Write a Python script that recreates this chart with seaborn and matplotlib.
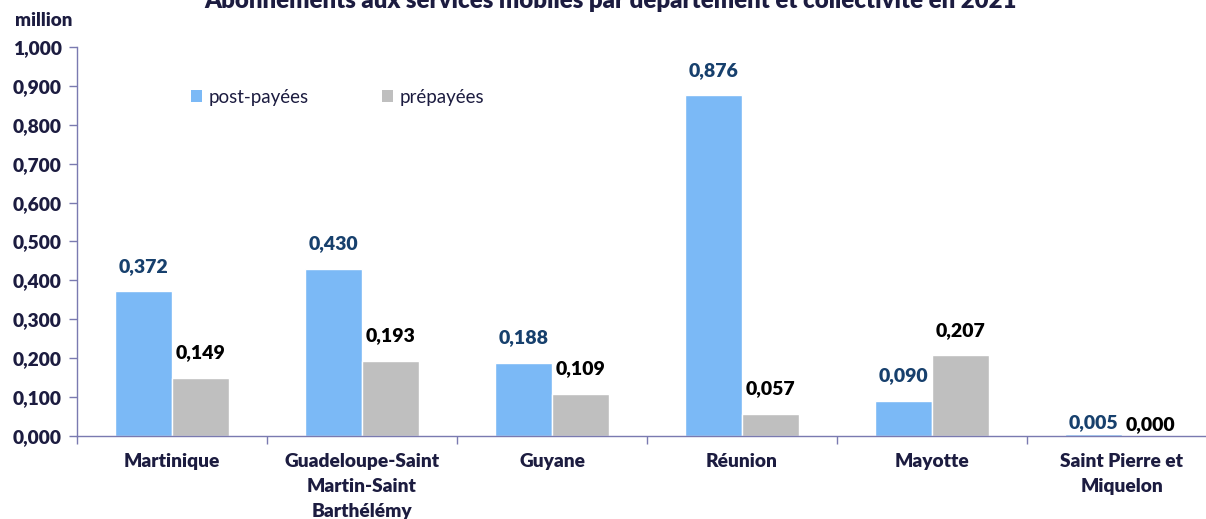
import matplotlib
matplotlib.use("Agg")
import matplotlib.pyplot as plt
import seaborn as sns
import pandas as pd
import numpy as np
from matplotlib.patches import Patch

categories = ["Martinique", "Guadeloupe-Saint\nMartin-Saint\nBarthélémy", "Guyane",
              "Réunion", "Mayotte", "Saint Pierre et\nMiquelon"]
post_payees = [0.372, 0.430, 0.188, 0.876, 0.090, 0.005]
prepayees = [0.149, 0.193, 0.109, 0.057, 0.207, 0.000]
series_names = ["post-payées", "prépayées"]
yticks = [0.0, 0.1, 0.2, 0.3, 0.4, 0.5, 0.6, 0.7, 0.8, 0.9, 1.0]
title = "Abonnements aux services mobiles par département et collectivité en 2021"

sns.set_theme(style="white")
plt.rcParams['font.family'] = ['Lato', 'DejaVu Sans']

BLUE = "#7BB9F6"
GRAY = "#BFBFBF"
NAVY = "#1C1C40"
LBLUE = "#17406D"
SPINE = "#7A7AB0"

df = pd.DataFrame({
    "cat": categories * 2,
    "val": post_payees + prepayees,
    "serie": [series_names[0]] * len(categories) + [series_names[1]] * len(categories),
})

W, H = 1206, 519
fig = plt.figure(figsize=(W / 100, H / 100), dpi=100)
ax = fig.add_axes([77 / W, (H - 436) / H, 1140 / W, 389 / H])

sns.barplot(data=df, x="cat", y="val", hue="serie", order=categories,
            hue_order=series_names, palette=[BLUE, GRAY], width=0.6,
            gap=0, saturation=1, ax=ax, legend=False, errorbar=None)

ax.set_xlim(-0.5, len(categories) - 0.5)
ax.set_ylim(0, 1.0)
ax.set_xlabel("")
ax.set_ylabel("")

# Value labels
for cont, color in zip(ax.containers, [LBLUE, "black"]):
    for bar in cont:
        v = bar.get_height()
        off = 8 if v < 0.02 else 18
        ax.annotate(f"{v:.3f}".replace(".", ","),
                    (bar.get_x() + bar.get_width() / 2, v),
                    xytext=(0, off), textcoords="offset points",
                    ha="center", va="center", fontsize=14, fontweight="heavy",
                    color=color)

# Y axis
ax.set_yticks(yticks)
ax.set_yticklabels([f"{t:.3f}".replace(".", ",") for t in yticks],
                   fontsize=13.8, fontweight="heavy", color=NAVY)
ax.tick_params(axis="y", length=6, width=1, color=SPINE, direction="out", pad=5, left=True)

# X axis
ax.set_xticks(range(len(categories)))
ax.set_xticklabels(categories, fontsize=13.8, fontweight="heavy", color=NAVY,
                   linespacing=1.6)
ax.tick_params(axis="x", which="major", length=0, pad=12)
ax.set_xticks(np.arange(-0.5, len(categories), 1.0), minor=True)
ax.tick_params(axis="x", which="minor", length=6, width=1, color=SPINE,
               direction="out", bottom=True)

for s in ["top", "right"]:
    ax.spines[s].set_visible(False)
for s in ["left", "bottom"]:
    ax.spines[s].set_color(SPINE)
    ax.spines[s].set_linewidth(1)

# Legend
handles = [Patch(facecolor=BLUE, edgecolor="none"), Patch(facecolor=GRAY, edgecolor="none")]
leg = fig.legend(handles, series_names, loc="center left",
                 bbox_to_anchor=(191 / W, 1 - 97 / H), ncol=2, frameon=False,
                 fontsize=13.5, handlelength=0.6, handleheight=0.6,
                 handletextpad=0.35, columnspacing=3.9, borderpad=0, borderaxespad=0)
for t in leg.get_texts():
    t.set_color(NAVY)

fig.text(15 / W, 1 - 20 / H, "million", ha="left", va="center",
         fontsize=13.5, fontweight="heavy", color=NAVY)
fig.text(610 / W, 1 - 8 / H, title, ha="center", va="baseline",
         fontsize=17.3, fontweight="heavy", color=NAVY)

fig.savefig("out.png", dpi=100)
